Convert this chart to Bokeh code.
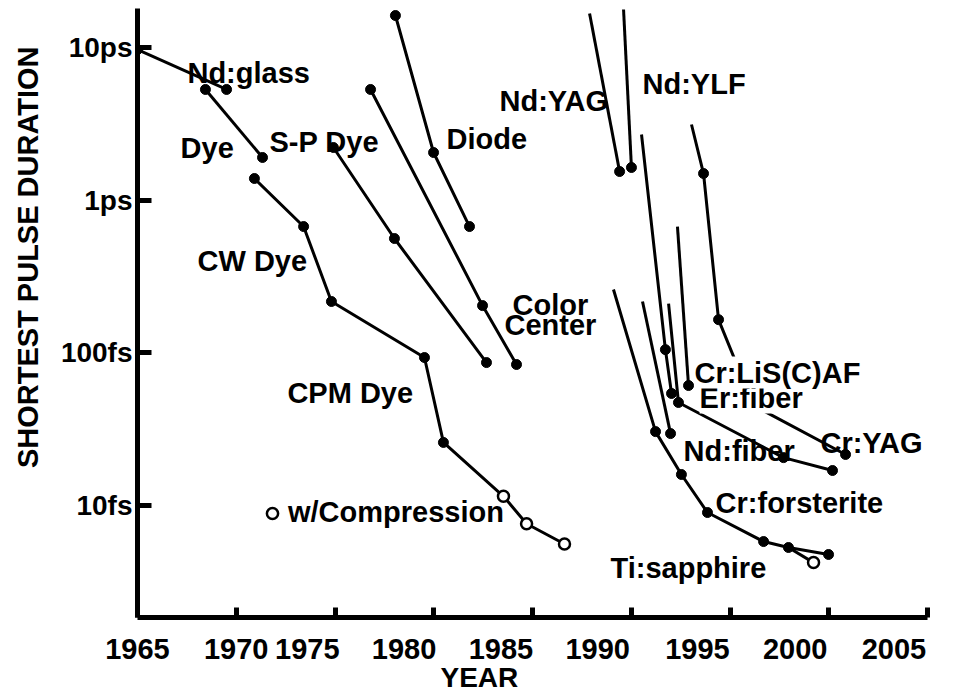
from bokeh.plotting import figure
from bokeh.models import FixedTicker, Range1d, Label, Legend, LegendItem, Title
from bokeh.embed import file_html
from bokeh.resources import INLINE

# ---------------- data ----------------
year_ticks = [1965, 1970, 1975, 1980, 1985, 1990, 1995, 2000, 2005]
year_tick_labels = ["1965", "1970", "1975", "1980", "1985", "1990", "1995", "2000", "2005"]
# where the year labels actually sit in the original (shifted left of the ticks)
year_label_pos = [1965.0, 1970.0, 1973.6, 1978.5, 1983.4, 1988.3, 1993.35, 1998.3, 2003.3]

dur_ticks_fs = [10, 100, 1000, 10000]
dur_tick_labels = ["10fs", "100fs", "1ps", "10ps"]

# each series: year, shortest pulse (fs), marker ("dot", "open", "" = none)
ndglass_year = [1965.0, 1969.51]
ndglass_fs = [9700, 5310]
ndglass_mark = ["dot", "dot"]

dye_year = [1968.44, 1971.33]
dye_fs = [5310, 1904]
dye_mark = ["dot", "dot"]

cwdye_year = [1970.92, 1973.41, 1974.82, 1979.53, 1980.49, 1983.53, 1984.70, 1986.62]
cwdye_fs = [1387, 672, 217, 93.2, 25.9, 11.5, 7.6, 5.6]
cwdye_mark = ["dot", "dot", "dot", "dot", "dot", "open", "open", "open"]

spdye_year = [1974.92, 1978.01, 1982.67]
spdye_fs = [2213, 561, 86.4]
spdye_mark = ["dot", "dot", "dot"]

colorcenter_year = [1976.80, 1982.47, 1984.19]
colorcenter_fs = [5310, 204, 83.9]
colorcenter_mark = ["dot", "dot", "dot"]

diode_year = [1978.06, 1979.99, 1981.81]
diode_fs = [16200, 2052, 672]
diode_mark = ["dot", "dot", "dot"]

ndyag_year = [1987.89, 1989.41]
ndyag_fs = [16700, 1541]
ndyag_mark = ["", "dot"]

ndylf_year = [1989.61, 1990.01]
ndylf_fs = [17740, 1637]
ndylf_mark = ["", "dot"]

cryag_year = [1993.05, 1993.66, 1994.42, 1996.19, 2000.85]
cryag_fs = [3131, 1495, 165, 45.2, 21.6]
cryag_mark = ["", "dot", "dot", "dot", "dot"]

crlisaf_year = [1990.52, 1991.73, 1992.04]
crlisaf_fs = [2692, 105, 54.2]
crlisaf_mark = ["", "dot", "dot"]

erfiber_year = [1992.34, 1992.90]
erfiber_fs = [672, 61.1]
erfiber_mark = ["", "dot"]

ndfiber_year = [1990.57, 1991.99]
ndfiber_fs = [217, 29.6]
ndfiber_mark = ["", "dot"]

crfor_year = [1991.89, 1992.39, 1997.71, 2000.19]
crfor_fs = [210, 47.3, 20.6, 16.96]
crfor_mark = ["", "dot", "dot", "dot"]

tisa_year = [1989.10, 1991.23, 1992.54, 1993.86, 1996.70, 1997.96, 1999.99]
tisa_fs = [260, 30.5, 15.97, 9.0, 5.81, 5.31, 4.78]
tisa_mark = ["", "dot", "dot", "dot", "dot", "dot", "dot"]

tisa_comp_year = [1997.96, 1999.23]
tisa_comp_fs = [5.31, 4.23]
tisa_comp_mark = ["", "open"]

series = [
    (ndglass_year, ndglass_fs, ndglass_mark),
    (dye_year, dye_fs, dye_mark),
    (cwdye_year, cwdye_fs, cwdye_mark),
    (spdye_year, spdye_fs, spdye_mark),
    (colorcenter_year, colorcenter_fs, colorcenter_mark),
    (diode_year, diode_fs, diode_mark),
    (ndyag_year, ndyag_fs, ndyag_mark),
    (ndylf_year, ndylf_fs, ndylf_mark),
    (cryag_year, cryag_fs, cryag_mark),
    (crlisaf_year, crlisaf_fs, crlisaf_mark),
    (erfiber_year, erfiber_fs, erfiber_mark),
    (ndfiber_year, ndfiber_fs, ndfiber_mark),
    (crfor_year, crfor_fs, crfor_mark),
    (tisa_year, tisa_fs, tisa_mark),
    (tisa_comp_year, tisa_comp_fs, tisa_comp_mark),
]

# annotation labels: text, anchor year, anchor duration (fs)
label_text = ["Nd:glass", "Dye", "S-P Dye", "Diode", "Nd:YAG", "Nd:YLF", "CW Dye",
              "CPM Dye", "Color", "Center", "Ti:sapphire", "Cr:forsterite",
              "Nd:fiber", "Cr:YAG", "Er:fiber", "Cr:LiS(C)AF"]
label_year = [1967.53, 1967.18, 1971.68, 1980.65, 1983.33, 1990.57, 1968.04,
              1972.59, 1985.91, 1985.91, 1988.95, 1994.27,
              1992.65, 1999.58, 1993.46, 1993.20]
label_fs = [6859, 2213, 2387, 2535, 4496, 5811, 402.5,
            54.2, 207.3, 153.3, 3.87, 10.46,
            22.93, 25.87, 51.0, 74.3]
label_align = ["left"] * 8 + ["center", "center"] + ["left"] * 6
label_box = [False] * 14 + [True, True]

FONT = "Liberation Sans"

# ---------------- figure ----------------
p = figure(width=970, height=694, output_backend="svg", toolbar_location=None,
           x_range=Range1d(1965, 2005), y_range=Range1d(1.848, 18010),
           y_axis_type="log",
           min_border_left=137, min_border_right=43, min_border_top=8,
           min_border_bottom=77)
p.outline_line_color = None
p.grid.grid_line_color = None
p.background_fill_color = "white"
p.border_fill_color = "white"

# y axis
ya = p.yaxis[0]
ya.ticker = FixedTicker(ticks=dur_ticks_fs)
ya.major_label_overrides = {t: l for t, l in zip(dur_ticks_fs, dur_tick_labels)}
ya.axis_line_width = 5
ya.major_tick_line_width = 5
ya.major_tick_in = 14
ya.major_tick_out = 0
ya.minor_tick_line_color = None
ya.major_label_standoff = 5
ya.major_label_text_font = FONT
ya.major_label_text_font_style = "bold"
ya.major_label_text_font_size = "28px"
ya.major_label_text_color = "black"

# y-axis title, set high along the axis as in the original
p.add_layout(Title(text="SHORTEST PULSE DURATION", align="right", offset=38,
                   standoff=23, vertical_align="top", text_font=FONT,
                   text_font_style="bold", text_font_size="29px",
                   text_color="black"), "left")

# x axis: tick marks at the years (drawn as minor ticks, no labels),
# labels where the original prints them
xa = p.xaxis[0]
xa.ticker = FixedTicker(ticks=year_label_pos, minor_ticks=year_ticks)
xa.major_label_overrides = {t: l for t, l in zip(year_label_pos, year_tick_labels)}
xa.axis_line_width = 5
xa.major_tick_line_color = None
xa.major_tick_in = 0
xa.major_tick_out = 0
xa.minor_tick_line_color = "black"
xa.minor_tick_line_width = 5
xa.minor_tick_in = 10
xa.minor_tick_out = 0
xa.major_label_standoff = 21
xa.major_label_text_font = FONT
xa.major_label_text_font_style = "bold"
xa.major_label_text_font_size = "29px"
xa.major_label_text_color = "black"

# x-axis title, left of centre as in the original
p.add_layout(Title(text="YEAR", align="left", offset=303, standoff=0,
                   vertical_align="top", text_font=FONT, text_font_style="bold",
                   text_font_size="28px", text_color="black"), "below")

# lines
for yrs, fs, mk in series:
    p.line(yrs, fs, line_color="black", line_width=3)

dot_x, dot_y, open_x, open_y = [], [], [], []
for yrs, fs, mk in series:
    for x, y, m in zip(yrs, fs, mk):
        if m == "dot":
            dot_x.append(x); dot_y.append(y)
        elif m == "open":
            open_x.append(x); open_y.append(y)

p.scatter(dot_x, dot_y, size=10, marker="circle", fill_color="black", line_color="black")
open_r = p.scatter(open_x, open_y, size=11, marker="circle", fill_color="white",
                   line_color="black", line_width=2.5)

for t, x, y, a, b in zip(label_text, label_year, label_fs, label_align, label_box):
    lab = Label(x=x, y=y, text=t, text_align=a, text_baseline="alphabetic",
                text_font=FONT, text_font_style="bold", text_font_size="29px",
                text_color="black")
    if b:
        lab.background_fill_color = "white"
    p.add_layout(lab)

legend = Legend(items=[LegendItem(label="w/Compression", renderers=[open_r])],
                location=(121, 88), orientation="vertical",
                border_line_color=None, background_fill_alpha=0,
                padding=0, margin=0, spacing=0,
                glyph_width=28, glyph_height=28, label_height=28, label_standoff=2,
                label_text_font=FONT, label_text_font_style="bold",
                label_text_font_size="29px", label_text_color="black")
p.add_layout(legend, "center")

open("out.html", "w").write(file_html(p, INLINE))
